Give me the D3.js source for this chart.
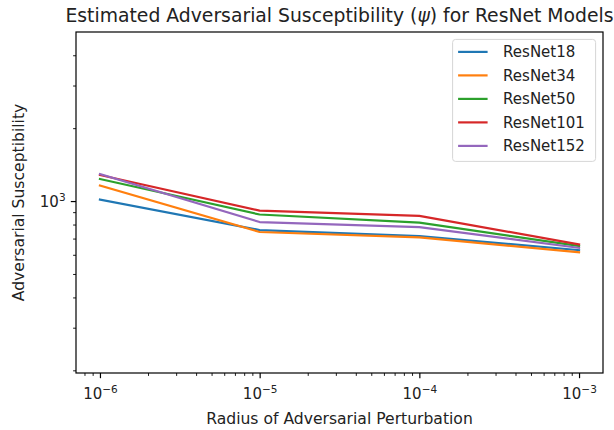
<!DOCTYPE html>
<html>
<head>
<meta charset="utf-8">
<script src="https://cdn.jsdelivr.net/npm/d3@7"></script>
<style>
    body { margin: 0; background: #fff; }
    svg text { font-family: "DejaVu Sans", sans-serif; fill: #222; }
</style>
</head>
<body>
<div id="chart"></div>
<script>
// radius of the perturbation (x) and estimated susceptibility per model (y)
const radii = [1e-6, 1e-5, 1e-4, 1e-3];
const modelNames = ["ResNet18", "ResNet34", "ResNet50", "ResNet101", "ResNet152"];
const resnet18 = [1014, 759, 717, 627];
const resnet34 = [1159, 745, 708, 615];
const resnet50 = [1233, 880, 815, 652];
const resnet101 = [1281, 913, 869, 662];
const resnet152 = [1293, 819, 781, 641];
const colors = ["#1f77b4", "#ff7f0e", "#2ca02c", "#d62728", "#9467bd"];
const yLimits = [195, 4990];

const series = [resnet18, resnet34, resnet50, resnet101, resnet152];

const superLabel = function(sel, exponent, baseSize){
    sel.text(null);
    sel.append("tspan").text("10");
    sel.append("tspan")
        .attr("dy", -baseSize * 0.42)
        .style("font-size", (baseSize * 0.7) + "px")
        .text(exponent);
}

const drawChart = function(){
    const width = 614, height = 430;
    const margin = { top: 32, right: 11, bottom: 57, left: 76 };
    const innerW = width - margin.left - margin.right;
    const innerH = height - margin.top - margin.bottom;
    const fs = 15;
    const labelFs = 15.6;

    const svg = d3.select("#chart")
        .append("svg")
        .attr("width", width)
        .attr("height", height);

    const g = svg.append("g")
        .attr("transform", `translate(${margin.left},${margin.top})`);

    // matplotlib style 5% margin in log space
    const lx0 = Math.log10(d3.min(radii)), lx1 = Math.log10(d3.max(radii));
    const pad = (lx1 - lx0) * 0.05;
    const xScale = d3.scaleLog()
        .domain([Math.pow(10, lx0 - pad), Math.pow(10, lx1 + pad)])
        .range([0, innerW]);

    const yScale = d3.scaleLog()
        .domain(yLimits)
        .range([innerH, 0]);

    const isMajor = v => Math.abs(Math.log10(v) - Math.round(Math.log10(v))) < 1e-9;
    const xTicks = xScale.ticks();
    const yTicks = yScale.ticks();

    // lines
    const line = d3.line()
        .x((d, i) => xScale(radii[i]))
        .y(d => yScale(d));

    g.selectAll(".series")
        .data(series)
        .enter()
        .append("path")
        .attr("class", "series")
        .attr("d", d => line(d))
        .attr("fill", "none")
        .attr("stroke", (d, i) => colors[i])
        .attr("stroke-width", 2.2)
        .attr("stroke-linejoin", "round")
        .attr("stroke-linecap", "square");

    // x axis
    const xAxis = g.append("g")
        .attr("transform", `translate(0, ${innerH})`)
        .call(d3.axisBottom(xScale)
            .tickValues(xTicks)
            .tickSize(0)
            .tickFormat(""));
    xAxis.select(".domain").remove();
    xAxis.selectAll(".tick line")
        .attr("y2", d => isMajor(d) ? 5.2 : 2.9)
        .attr("stroke", "#000")
        .attr("stroke-width", d => isMajor(d) ? 1.2 : 0.9);
    xAxis.selectAll(".tick text")
        .filter(d => isMajor(d))
        .attr("y", 26)
        .attr("dy", null)
        .style("font-size", fs + "px")
        .attr("text-anchor", "middle")
        .each(function(d){
            superLabel(d3.select(this), "\u2212" + Math.abs(Math.round(Math.log10(d))), fs);
        });

    // y axis
    const yAxis = g.append("g")
        .call(d3.axisLeft(yScale)
            .tickValues(yTicks)
            .tickSize(0)
            .tickFormat(""));
    yAxis.select(".domain").remove();
    yAxis.selectAll(".tick line")
        .attr("x2", d => isMajor(d) ? -5.2 : -2.9)
        .attr("stroke", "#000")
        .attr("stroke-width", d => isMajor(d) ? 1.2 : 0.9);
    yAxis.selectAll(".tick text")
        .filter(d => isMajor(d))
        .attr("x", -10.4)
        .attr("dy", "0.35em")
        .style("font-size", fs + "px")
        .attr("text-anchor", "end")
        .each(function(d){
            superLabel(d3.select(this), String(Math.round(Math.log10(d))), fs);
        });

    // frame
    g.append("rect")
        .attr("width", innerW)
        .attr("height", innerH)
        .attr("fill", "none")
        .attr("stroke", "#000")
        .attr("stroke-width", 1.2);

    // legend
    const legend = g.append("g")
        .attr("transform", `translate(${innerW - 7.4 - 143}, 7.4)`);
    legend.append("rect")
        .attr("width", 143)
        .attr("height", 122)
        .attr("rx", 3)
        .attr("fill", "#fff")
        .attr("fill-opacity", 0.8)
        .attr("stroke", "#d6d6d6")
        .attr("stroke-width", 1);
    const rows = legend.selectAll(".entry")
        .data(modelNames)
        .enter()
        .append("g")
        .attr("class", "entry")
        .attr("transform", (d, i) => `translate(0, ${12.5 + i * 23.5})`);
    rows.append("line")
        .attr("x1", 5.5)
        .attr("x2", 35)
        .attr("stroke", (d, i) => colors[i])
        .attr("stroke-width", 2.2);
    rows.append("text")
        .attr("x", 50.5)
        .attr("dy", "0.35em")
        .style("font-size", fs + "px")
        .text(d => d);

    // labels
    svg.append("text")
        .attr("x", margin.left + innerW / 2)
        .attr("y", 424)
        .attr("text-anchor", "middle")
        .style("font-size", labelFs + "px")
        .text("Radius of Adversarial Perturbation");

    svg.append("text")
        .attr("transform", "rotate(-90)")
        .attr("x", -(margin.top + innerH / 2))
        .attr("y", 24)
        .attr("text-anchor", "middle")
        .style("font-size", labelFs + "px")
        .text("Adversarial Susceptibility");

    const title = svg.append("text")
        .attr("x", margin.left + innerW / 2)
        .attr("y", 22)
        .attr("text-anchor", "middle")
        .style("font-size", "18.8px");
    title.append("tspan").text("Estimated Adversarial Susceptibility (");
    title.append("tspan").style("font-style", "italic").text("\u03c8");
    title.append("tspan").text(") for ResNet Models");
}

window.onload = function(){
    drawChart();
}
</script>
</body>
</html>
